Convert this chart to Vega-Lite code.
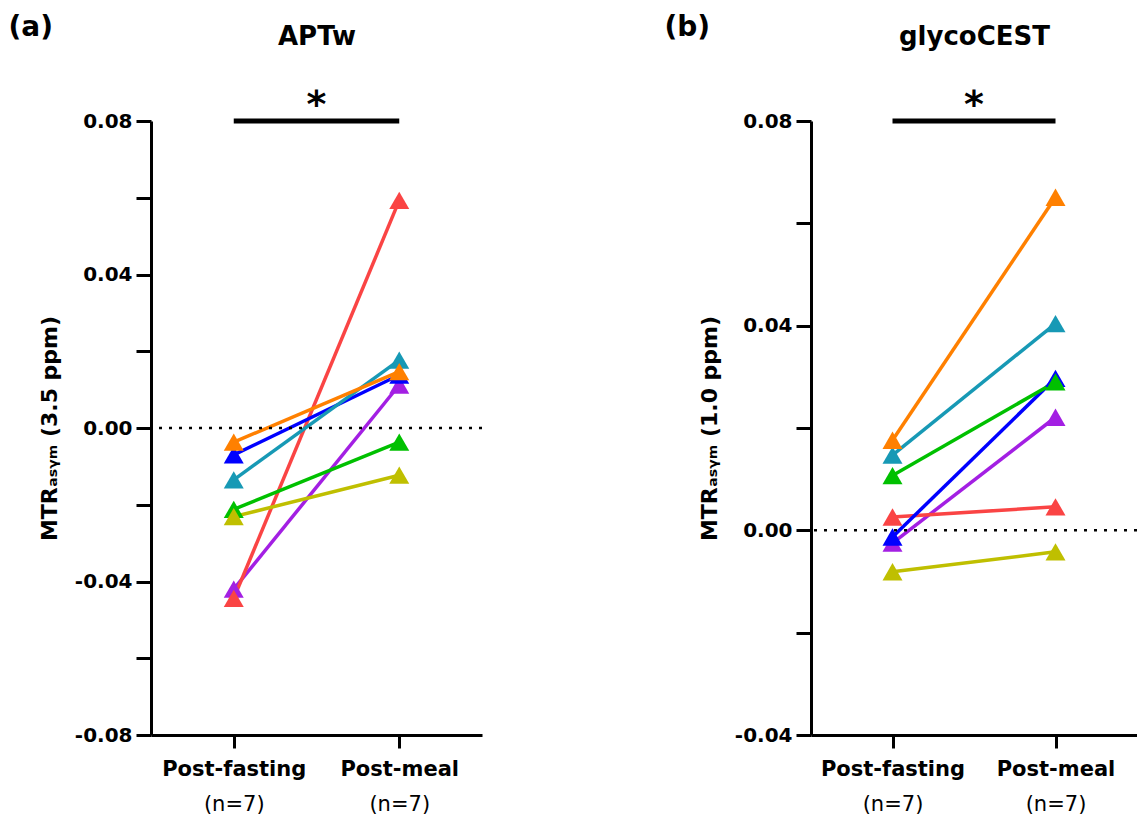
{
  "$schema": "https://vega.github.io/schema/vega-lite/v6.json",
  "padding": {"left": 8, "top": 13, "right": 0, "bottom": 0},
  "background": "white",
  "config": {"font": "DejaVu Sans", "view": {"stroke": null}, "axis": {"grid": false}},
  "datasets": {
    "apt": [
      {"subject": "S1", "time": 1, "value": -0.0420}, {"subject": "S1", "time": 2, "value": 0.0112},
      {"subject": "S2", "time": 1, "value": -0.0444}, {"subject": "S2", "time": 2, "value": 0.0593},
      {"subject": "S3", "time": 1, "value": -0.0070}, {"subject": "S3", "time": 2, "value": 0.0138},
      {"subject": "S4", "time": 1, "value": -0.0135}, {"subject": "S4", "time": 2, "value": 0.0177},
      {"subject": "S5", "time": 1, "value": -0.0212}, {"subject": "S5", "time": 2, "value": -0.0037},
      {"subject": "S6", "time": 1, "value": -0.0231}, {"subject": "S6", "time": 2, "value": -0.0123},
      {"subject": "S7", "time": 1, "value": -0.0037}, {"subject": "S7", "time": 2, "value": 0.0147}
    ],
    "glyco": [
      {"subject": "S1", "time": 1, "value": -0.0025}, {"subject": "S1", "time": 2, "value": 0.0221},
      {"subject": "S2", "time": 1, "value": 0.0026}, {"subject": "S2", "time": 2, "value": 0.0046},
      {"subject": "S3", "time": 1, "value": -0.0013}, {"subject": "S3", "time": 2, "value": 0.0297},
      {"subject": "S4", "time": 1, "value": 0.0147}, {"subject": "S4", "time": 2, "value": 0.0404},
      {"subject": "S5", "time": 1, "value": 0.0107}, {"subject": "S5", "time": 2, "value": 0.0290},
      {"subject": "S6", "time": 1, "value": -0.0081}, {"subject": "S6", "time": 2, "value": -0.0042},
      {"subject": "S7", "time": 1, "value": 0.0176}, {"subject": "S7", "time": 2, "value": 0.0651}
    ]
  },
  "spacing": 180,
  "resolve": {"scale": {"x": "independent", "y": "independent", "color": "independent"}},
  "hconcat": [
    {
      "width": 331,
      "height": 614,
      "layer": [
        {
          "data": {"name": "apt"},
          "mark": {"type": "line", "strokeWidth": 3.5},
          "encoding": {
            "x": {"field": "time", "type": "quantitative", "scale": {"domain": [0.5, 2.5], "nice": false, "zero": false},
              "axis": {"orient": "bottom", "values": [1, 2], "labelExpr": "datum.value == 1 ? 'Post-fasting' : 'Post-meal'", "title": null,
                "domainWidth": 3, "domainColor": "black", "tickWidth": 3, "tickColor": "black", "tickSize": 13,
                "labelFontSize": 21, "labelFontWeight": "bold", "labelColor": "black", "labelPadding": 10, "labelFlush": false, "labelOverlap": false}},
            "y": {"field": "value", "type": "quantitative", "scale": {"domain": [-0.08, 0.08], "nice": false, "zero": false},
              "axis": {"orient": "left", "values": [-0.08, -0.06, -0.04, -0.02, 0, 0.02, 0.04, 0.06, 0.08],
                "labelExpr": "round(datum.value*100) % 4 == 0 ? (datum.value < 0 ? '-' : '') + format(abs(datum.value), '.2f') : ''",
                "title": "MTRₐₛᵧₘ (3.5 ppm)", "titleFontSize": 22, "titleFontWeight": "bold", "titleColor": "black", "titlePadding": 13,
                "domainWidth": 3, "domainColor": "black", "tickWidth": 3, "tickColor": "black", "tickSize": 15,
                "labelFontSize": 20, "labelFontWeight": "bold", "labelColor": "black", "labelPadding": 4, "labelFlush": false, "labelOverlap": false}},
            "color": {"field": "subject", "type": "nominal", "legend": null,
              "scale": {"domain": ["S1", "S2", "S3", "S4", "S5", "S6", "S7"], "range": ["#A31FE3", "#FA4444", "#0000FF", "#1799B5", "#00C000", "#BFBF00", "#FF8000"]}}
          }
        },
        {
          "data": {"name": "apt"},
          "mark": {"type": "point", "shape": "triangle-up", "filled": true, "size": 400, "opacity": 1},
          "encoding": {
            "x": {"field": "time", "type": "quantitative", "axis": null},
            "y": {"field": "value", "type": "quantitative", "axis": null},
            "color": {"field": "subject", "type": "nominal", "legend": null,
              "scale": {"domain": ["S1", "S2", "S3", "S4", "S5", "S6", "S7"], "range": ["#A31FE3", "#FA4444", "#0000FF", "#1799B5", "#00C000", "#BFBF00", "#FF8000"]}}
          }
        },
        {
          "data": {"values": [{}]},
          "mark": {"type": "rule", "strokeDash": [3, 7], "strokeWidth": 2.5, "color": "black"},
          "encoding": {"y": {"datum": 0, "type": "quantitative", "axis": null}}
        },
        {
          "data": {"values": [{}]},
          "mark": {"type": "rule", "strokeWidth": 5, "color": "black"},
          "encoding": {
            "x": {"datum": 1, "type": "quantitative",
              "axis": {"orient": "bottom", "values": [1, 2], "labelExpr": "'(n=7)'", "title": null, "domain": false, "ticks": false, "tickSize": 0,
                "labelFontSize": 21, "labelFontWeight": "normal", "labelColor": "black", "labelPadding": 58, "labelFlush": false, "labelOverlap": false}},
            "x2": {"datum": 2},
            "y": {"datum": 0.08, "type": "quantitative", "axis": null}
          }
        },
        {
          "data": {"values": [{}]},
          "mark": {"type": "text", "text": "*", "fontSize": 38, "fontWeight": "bold", "dy": -4, "baseline": "alphabetic", "color": "black"},
          "encoding": {
            "x": {"datum": 1.5, "type": "quantitative",
              "axis": {"orient": "top", "domain": false, "ticks": false, "labels": false, "title": "APTw", "titleFontSize": 26, "titleFontWeight": "bold", "titleColor": "black", "titlePadding": 72}},
            "y": {"datum": 0.08, "type": "quantitative",
              "axis": {"orient": "left", "domain": false, "ticks": false, "labels": false, "title": "(a)", "titleAngle": 0, "titleAlign": "left", "titleBaseline": "alphabetic", "titleX": -143, "titleY": -86, "titleFontSize": 28, "titleFontWeight": "bold", "titleColor": "black"}}
          }
        }
      ],
      "resolve": {"axis": {"x": "independent", "y": "independent"}}
    },
    {
      "width": 326,
      "height": 614,
      "layer": [
        {
          "data": {"name": "glyco"},
          "mark": {"type": "line", "strokeWidth": 3.5},
          "encoding": {
            "x": {"field": "time", "type": "quantitative", "scale": {"domain": [0.5, 2.5], "nice": false, "zero": false},
              "axis": {"orient": "bottom", "values": [1, 2], "labelExpr": "datum.value == 1 ? 'Post-fasting' : 'Post-meal'", "title": null,
                "domainWidth": 3, "domainColor": "black", "tickWidth": 3, "tickColor": "black", "tickSize": 13,
                "labelFontSize": 21, "labelFontWeight": "bold", "labelColor": "black", "labelPadding": 10, "labelFlush": false, "labelOverlap": false}},
            "y": {"field": "value", "type": "quantitative", "scale": {"domain": [-0.04, 0.08], "nice": false, "zero": false},
              "axis": {"orient": "left", "values": [-0.04, -0.02, 0, 0.02, 0.04, 0.06, 0.08],
                "labelExpr": "round(datum.value*100) % 4 == 0 ? (datum.value < 0 ? '-' : '') + format(abs(datum.value), '.2f') : ''",
                "title": "MTRₐₛᵧₘ (1.0 ppm)", "titleFontSize": 22, "titleFontWeight": "bold", "titleColor": "black", "titlePadding": 13,
                "domainWidth": 3, "domainColor": "black", "tickWidth": 3, "tickColor": "black", "tickSize": 15,
                "labelFontSize": 20, "labelFontWeight": "bold", "labelColor": "black", "labelPadding": 4, "labelFlush": false, "labelOverlap": false}},
            "color": {"field": "subject", "type": "nominal", "legend": null,
              "scale": {"domain": ["S1", "S2", "S3", "S4", "S5", "S6", "S7"], "range": ["#A31FE3", "#FA4444", "#0000FF", "#1799B5", "#00C000", "#BFBF00", "#FF8000"]}}
          }
        },
        {
          "data": {"name": "glyco"},
          "mark": {"type": "point", "shape": "triangle-up", "filled": true, "size": 400, "opacity": 1},
          "encoding": {
            "x": {"field": "time", "type": "quantitative", "axis": null},
            "y": {"field": "value", "type": "quantitative", "axis": null},
            "color": {"field": "subject", "type": "nominal", "legend": null,
              "scale": {"domain": ["S1", "S2", "S3", "S4", "S5", "S6", "S7"], "range": ["#A31FE3", "#FA4444", "#0000FF", "#1799B5", "#00C000", "#BFBF00", "#FF8000"]}}
          }
        },
        {
          "data": {"values": [{}]},
          "mark": {"type": "rule", "strokeDash": [3, 7], "strokeWidth": 2.5, "color": "black"},
          "encoding": {"y": {"datum": 0, "type": "quantitative", "axis": null}}
        },
        {
          "data": {"values": [{}]},
          "mark": {"type": "rule", "strokeWidth": 5, "color": "black"},
          "encoding": {
            "x": {"datum": 1, "type": "quantitative",
              "axis": {"orient": "bottom", "values": [1, 2], "labelExpr": "'(n=7)'", "title": null, "domain": false, "ticks": false, "tickSize": 0,
                "labelFontSize": 21, "labelFontWeight": "normal", "labelColor": "black", "labelPadding": 58, "labelFlush": false, "labelOverlap": false}},
            "x2": {"datum": 2},
            "y": {"datum": 0.08, "type": "quantitative", "axis": null}
          }
        },
        {
          "data": {"values": [{}]},
          "mark": {"type": "text", "text": "*", "fontSize": 38, "fontWeight": "bold", "dy": -4, "baseline": "alphabetic", "color": "black"},
          "encoding": {
            "x": {"datum": 1.5, "type": "quantitative",
              "axis": {"orient": "top", "domain": false, "ticks": false, "labels": false, "title": "glycoCEST", "titleFontSize": 26, "titleFontWeight": "bold", "titleColor": "black", "titlePadding": 72}},
            "y": {"datum": 0.08, "type": "quantitative",
              "axis": {"orient": "left", "domain": false, "ticks": false, "labels": false, "title": "(b)", "titleAngle": 0, "titleAlign": "left", "titleBaseline": "alphabetic", "titleX": -147, "titleY": -86, "titleFontSize": 28, "titleFontWeight": "bold", "titleColor": "black"}}
          }
        }
      ],
      "resolve": {"axis": {"x": "independent", "y": "independent"}}
    }
  ]
}
